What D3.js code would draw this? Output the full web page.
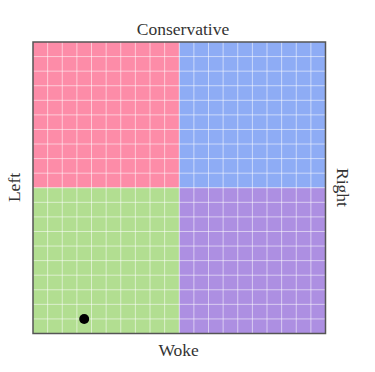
<!DOCTYPE html>
<html><head><meta charset="utf-8">
<script src="https://cdn.jsdelivr.net/npm/d3@7"></script>
<style>body{margin:0;background:#fff}</style>
</head><body>
<svg id="c" width="375" height="372"></svg>
<script>
const quadrants = [
  {name:"Left-Conservative", x0:-10, x1:0, y0:0, y1:10, color:"#fd8ca8"},
  {name:"Right-Conservative", x0:0, x1:10, y0:0, y1:10, color:"#8eacf5"},
  {name:"Left-Woke", x0:-10, x1:0, y0:-10, y1:0, color:"#b2de91"},
  {name:"Right-Woke", x0:0, x1:10, y0:-10, y1:0, color:"#ad8fe2"}
];
const gridTicks = d3.range(-10, 11, 1);
const points = [{x:-6.5, y:-9}];
const axisLabels = {top:"Conservative", bottom:"Woke", left:"Left", right:"Right"};

const svg = d3.select("#c");
const L = 33, R = 325.5, T = 42, B = 333.5;
const x = d3.scaleLinear().domain([-10,10]).range([L,R]);
const y = d3.scaleLinear().domain([-10,10]).range([B,T]);

svg.selectAll("rect.q").data(quadrants).join("rect")
  .attr("x", d=>x(d.x0)).attr("y", d=>y(d.y1))
  .attr("width", d=>x(d.x1)-x(d.x0)).attr("height", d=>y(d.y0)-y(d.y1))
  .attr("fill", d=>d.color);

svg.selectAll("line.v").data(gridTicks.slice(1,-1)).join("line")
  .attr("x1", d=>x(d)).attr("x2", d=>x(d)).attr("y1", T).attr("y2", B)
  .attr("stroke", "rgba(255,255,255,0.55)").attr("stroke-width", 1);
svg.selectAll("line.h").data(gridTicks.slice(1,-1)).join("line")
  .attr("y1", d=>y(d)).attr("y2", d=>y(d)).attr("x1", L).attr("x2", R)
  .attr("stroke", "rgba(255,255,255,0.55)").attr("stroke-width", 1);

svg.append("rect").attr("x", L).attr("y", T).attr("width", R-L).attr("height", B-T)
  .attr("fill", "none").attr("stroke", "#555").attr("stroke-width", 1.5);

svg.selectAll("circle").data(points).join("circle")
  .attr("cx", d=>x(d.x)).attr("cy", d=>y(d.y)).attr("r", 5).attr("fill", "#000");

const font = "Liberation Serif, DejaVu Serif, serif";
const fs = 17.5;
const cy = 187.5;
svg.append("text").attr("x", 183).attr("y", 35).attr("text-anchor","middle")
  .attr("font-family", font).attr("font-size", fs).attr("fill","#333").text(axisLabels.top);
svg.append("text").attr("x", 178.7).attr("y", 356).attr("text-anchor","middle")
  .attr("font-family", font).attr("font-size", fs).attr("fill","#333").text(axisLabels.bottom);
svg.append("text").attr("transform", `translate(20,${cy}) rotate(-90)`).attr("text-anchor","middle")
  .attr("font-family", font).attr("font-size", fs).attr("fill","#333").text(axisLabels.left);
svg.append("text").attr("transform", `translate(337,${cy}) rotate(90)`).attr("text-anchor","middle")
  .attr("font-family", font).attr("font-size", fs).attr("fill","#333").text(axisLabels.right);
</script>
</body></html>
